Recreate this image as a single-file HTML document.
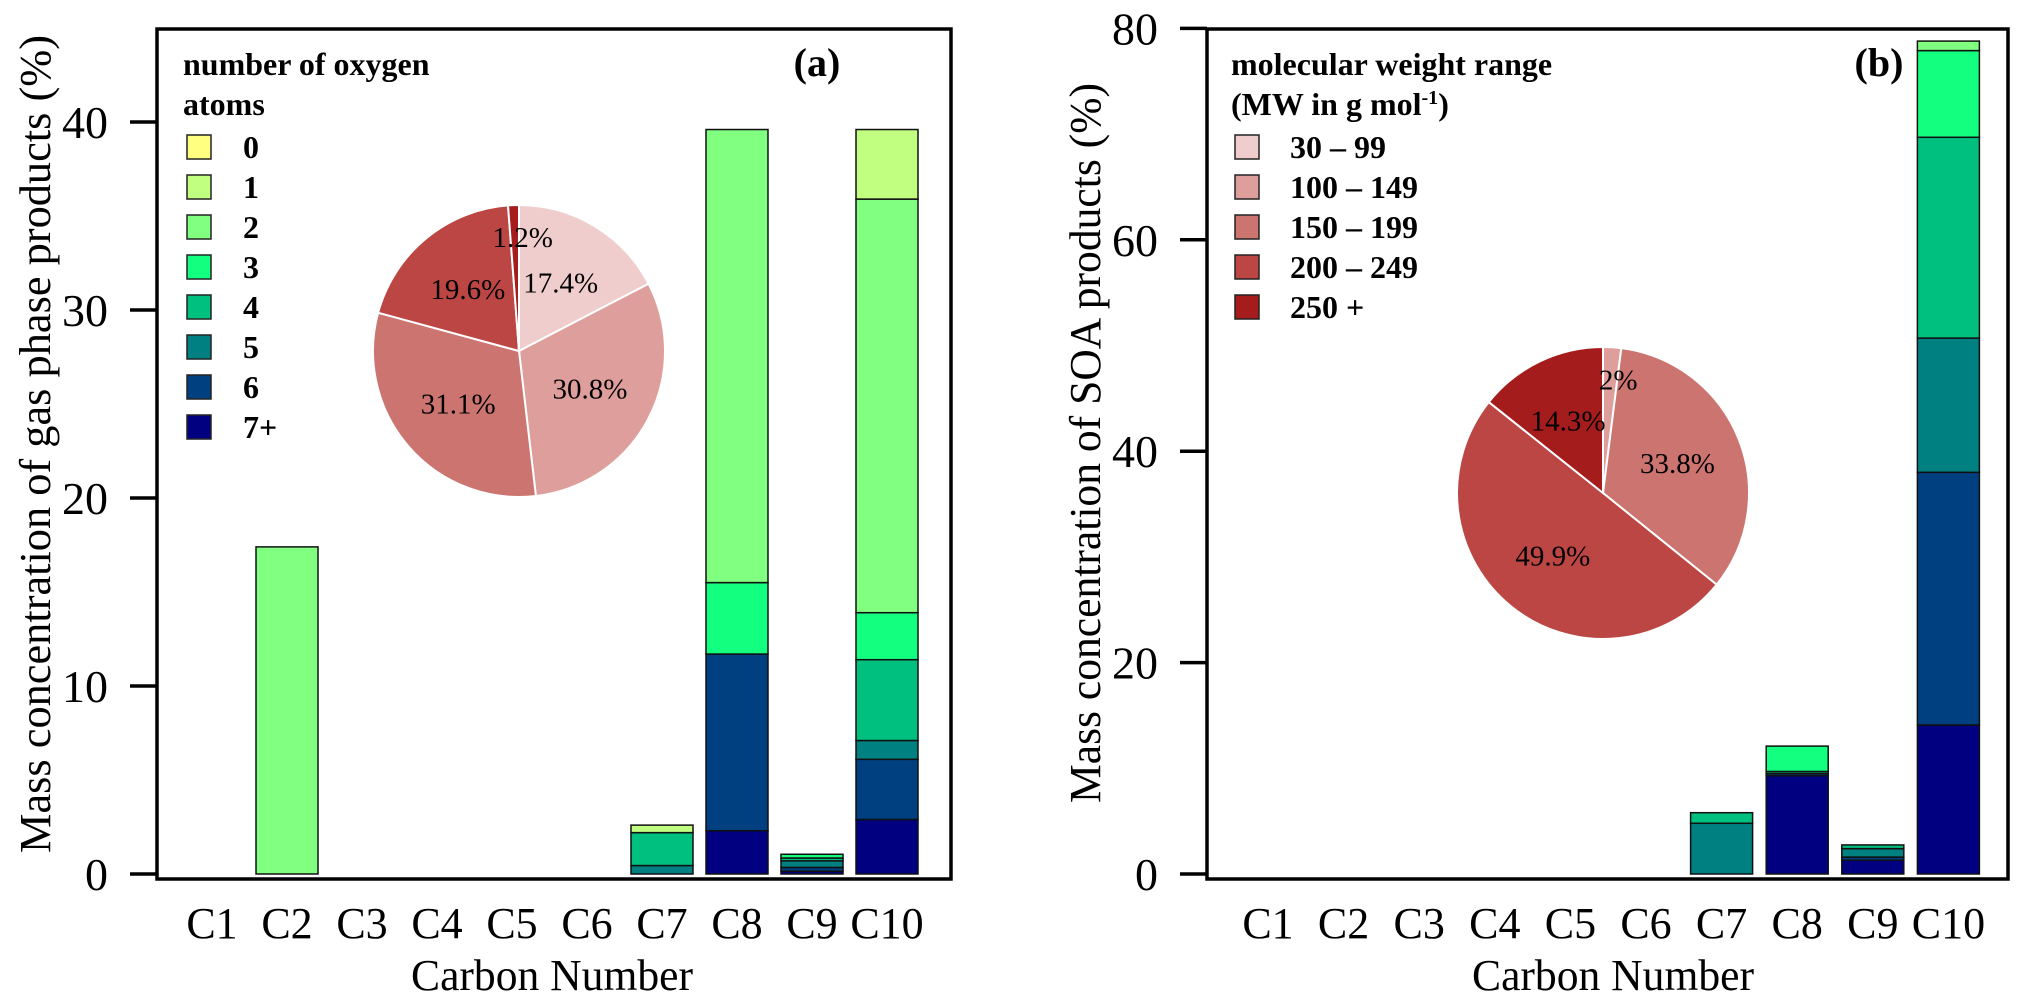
<!DOCTYPE html>
<html><head><meta charset="utf-8">
<style>
html,body{margin:0;padding:0;background:#fff;}
svg{display:block;font-family:"Liberation Serif","DejaVu Serif",serif;}
</style></head>
<body>
<svg id="chart" width="2028" height="1004" viewBox="0 0 2028 1004" xmlns="http://www.w3.org/2000/svg"></svg>
<script>
// ---------- data ----------
const categories = ["C1","C2","C3","C4","C5","C6","C7","C8","C9","C10"];
const oxygenLabels = ["0","1","2","3","4","5","6","7+"];
const oxygenColors = ["#FFFF80","#C0FF80","#80FF80","#13FF80","#00C080","#008080","#004080","#000080"];
// panel a: gas phase, values per oxygen class for each carbon number
const gasO0 = [0,0,0,0,0,0,0,0,0,0];
const gasO1 = [0,0,0,0,0,0,0.4,0,0,3.7];
const gasO2 = [0,17.4,0,0,0,0,0,24.1,0,22.0];
const gasO3 = [0,0,0,0,0,0,0,3.8,0.2,2.5];
const gasO4 = [0,0,0,0,0,0,1.75,0,0.15,4.3];
const gasO5 = [0,0,0,0,0,0,0.45,0,0.35,1.0];
const gasO6 = [0,0,0,0,0,0,0,9.4,0.2,3.2];
const gasO7 = [0,0,0,0,0,0,0,2.3,0.15,2.9];
// panel b: SOA
const soaO0 = [0,0,0,0,0,0,0,0,0,0];
const soaO1 = [0,0,0,0,0,0,0,0,0,0];
const soaO2 = [0,0,0,0,0,0,0,0,0,0.9];
const soaO3 = [0,0,0,0,0,0,0,2.4,0,8.2];
const soaO4 = [0,0,0,0,0,0,1.0,0.2,0.35,19.0];
const soaO5 = [0,0,0,0,0,0,4.8,0,0.8,12.7];
const soaO6 = [0,0,0,0,0,0,0,0.2,0.3,23.9];
const soaO7 = [0,0,0,0,0,0,0,9.3,1.3,14.1];
const yTicksA = [0,10,20,30,40];
const yTicksB = [0,20,40,60,80];
// pies
const pieAValues = [17.4,30.8,31.1,19.6,1.2];
const pieALabels = ["17.4%","30.8%","31.1%","19.6%","1.2%"];
const pieAColors = ["#EFCDCD","#DE9E9C","#CC7470","#BB4643","#A51C1C"];
const pieBValues = [2,33.8,49.9,14.3];
const pieBLabels = ["2%","33.8%","49.9%","14.3%"];
const pieBColors = ["#DE9E9C","#CC7470","#BB4643","#A51C1C"];
const mwLabels = ["30 \u2013 99","100 \u2013 149","150 \u2013 199","200 \u2013 249","250 +"];
const mwColors = ["#EFCDCD","#DE9E9C","#CC7470","#BB4643","#A51C1C"];

const gasSeries = [gasO0,gasO1,gasO2,gasO3,gasO4,gasO5,gasO6,gasO7];
const soaSeries = [soaO0,soaO1,soaO2,soaO3,soaO4,soaO5,soaO6,soaO7];
const NS="http://www.w3.org/2000/svg";
const svg=document.getElementById('chart');
function mk(tag,attrs,parent,text){const e=document.createElementNS(NS,tag);for(const k in attrs)e.setAttribute(k,attrs[k]);if(text!==undefined)e.textContent=text;(parent||svg).appendChild(e);return e;}

function panel(cfg){
  const g=mk('g',{});
  
  
  const y=v=>cfg.y0-(v/cfg.ymax)*(cfg.y0-cfg.yTop);
  const x=i=>cfg.x1+i*cfg.step;
  categories.forEach((c,i)=>{
    let base=0;
    for(let k=7;k>=0;k--){
      const v=cfg.series[k][i]; if(!v) continue;
      const r=mk('rect',{x:x(i)-31,y:y(base+v),width:62,height:y(base)-y(base+v),fill:oxygenColors[k],stroke:'#111','stroke-width':1.5},g);
      
      
      base+=v;
    }
  });
  const box=mk('rect',{x:cfg.bx0,y:29,width:cfg.bx1-cfg.bx0,height:879-29,fill:'none',stroke:'#000','stroke-width':3.5},g);
  
  
  cfg.ticks.forEach(t=>{
    const l=mk('line',{x1:cfg.bx0-27,x2:cfg.bx0,y1:y(t),y2:y(t),stroke:'#000','stroke-width':3.5},g);
    
    
    const tx=mk('text',{x:cfg.bx0-49,y:y(t)+16,'text-anchor':'end','font-size':46},g,String(t));
    
    
  });
  categories.forEach((c,i)=>{
    const tx=mk('text',{x:x(i),y:938,'text-anchor':'middle','font-size':44},g,c);
    
    
  });
  const xt=mk('text',{x:cfg.xTitleX,y:990,'text-anchor':'middle','font-size':44,textLength:282,lengthAdjust:'spacingAndGlyphs'},g,'Carbon Number');
  
  
  const yt=mk('text',{x:0,y:0,'text-anchor':'middle','font-size':44,transform:`translate(${cfg.yTitleX},${cfg.yTitleY}) rotate(-90)`,textLength:cfg.yTitleLen,lengthAdjust:'spacingAndGlyphs'},g,cfg.yTitle);
  
  
  const pl=mk('text',{x:cfg.tagX,y:76,'text-anchor':'middle','font-size':40,'font-weight':'bold'},g,cfg.tag);
  
  
  // pie slices first, labels after
  const total=cfg.pie.reduce((a,b)=>a+b,0);
  const cx=cfg.pcx, cy=cfg.pcy, r=146;
  let ang=0; const mids=[];
  cfg.pie.forEach((v,i)=>{
    const a0=ang, a1=ang+v/total*2*Math.PI; ang=a1;
    const p0=[cx+r*Math.sin(a0),cy-r*Math.cos(a0)], p1=[cx+r*Math.sin(a1),cy-r*Math.cos(a1)];
    const large=(a1-a0)>Math.PI?1:0;
    const p=mk('path',{d:`M${cx},${cy}L${p0[0]},${p0[1]}A${r},${r} 0 ${large} 1 ${p1[0]},${p1[1]}Z`,fill:cfg.pieColors[i],stroke:'#fff','stroke-width':2},g);
    
    
    mids.push([(a0+a1)/2, v/total]);
  });
  mids.forEach(([am,fr],i)=>{
    const f=(fr<0.05)?0.78:0.55;
    const t=mk('text',{x:cx+r*f*Math.sin(am)+(fr<0.05?8:0),y:cy-r*f*Math.cos(am)+10,'text-anchor':'middle','font-size':29},g,cfg.pieLabels[i]);
    
    
  });
  cfg.legTitle.forEach((s,i)=>{
    const t=mk('text',{x:cfg.legX,y:75+i*40,'font-size':32,'font-weight':'bold'},g);
    
    
    if(typeof s==='string'){t.textContent=s;} else {
      mk('tspan',{},t,s[0]); mk('tspan',{'font-size':20,dy:-11},t,s[1]); mk('tspan',{dy:11},t,s[2]);
    }
  });
  cfg.legLabels.forEach((s,i)=>{
    const ly=147+i*40;
    const rr=mk('rect',{x:cfg.legX+4,y:ly-12,width:24,height:24,fill:cfg.legColors[i],stroke:'#222','stroke-width':1.5},g);
    
    
    const t=mk('text',{x:cfg.legTextX,y:ly+11,'font-size':32,'font-weight':'bold'},g,s);
    
    
  });
}

panel({name:'panel-a-gas-phase',series:gasSeries,ymax:40,y0:874,yTop:122,x1:212,step:75,bx0:157,bx1:951,ticks:yTicksA,
  xTitleX:552,yTitleX:50,yTitleY:444,yTitleLen:818,yTitle:'Mass concentration of gas phase products (%)',
  tag:'(a)',tagX:817,pie:pieAValues,pieLabels:pieALabels,pieColors:pieAColors,pcx:519,pcy:351,
  legTitle:['number of oxygen','atoms'],legX:183,legTextX:243,legLabels:oxygenLabels,legColors:oxygenColors});
panel({name:'panel-b-soa',series:soaSeries,ymax:80,y0:874,yTop:28.4,x1:1268,step:75.6,bx0:1207,bx1:2008,ticks:yTicksB,
  xTitleX:1613,yTitleX:1100,yTitleY:443,yTitleLen:720,yTitle:'Mass concentration of SOA products (%)',
  tag:'(b)',tagX:1879,pie:pieBValues,pieLabels:pieBLabels,pieColors:pieBColors,pcx:1603,pcy:493,
  legTitle:['molecular weight range',['(MW in g mol','-1',')']],legX:1231,legTextX:1290,legLabels:mwLabels,legColors:mwColors});
</script>
</body></html>
